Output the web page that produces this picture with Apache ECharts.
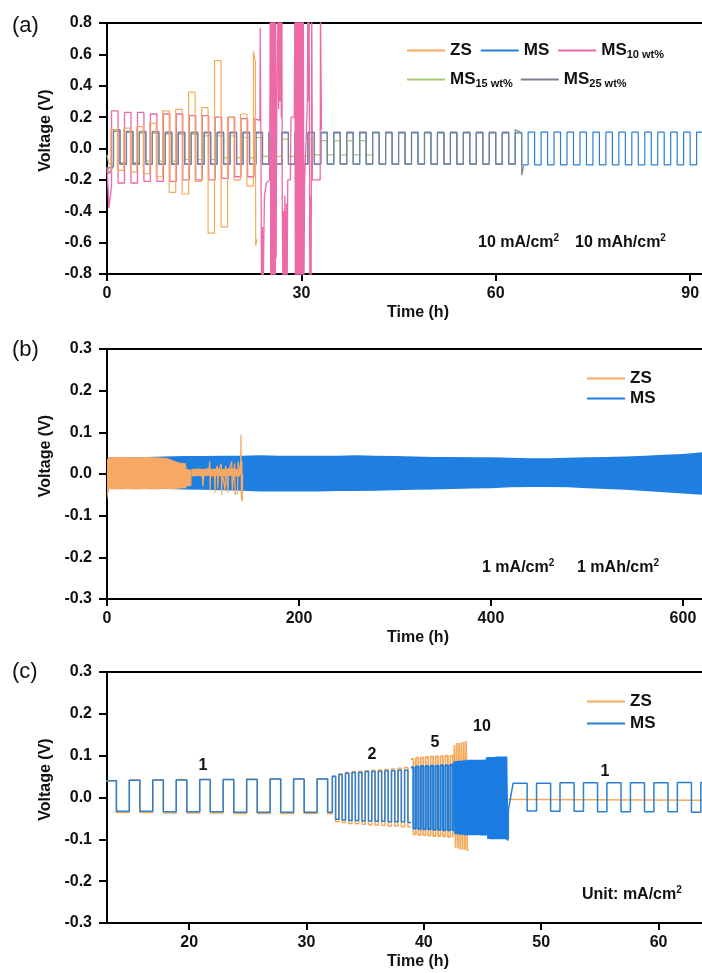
<!DOCTYPE html>
<html><head><meta charset="utf-8">
<script src="https://cdn.jsdelivr.net/npm/echarts@6/dist/echarts.min.js"></script>
<style>html,body{margin:0;padding:0;background:#fff}#c{width:702px;height:973px}</style>
</head><body><div id="c"></div>
<script>
// ---------------- Panel (a): 10 mA/cm2, 10 mAh/cm2 (cycle plateau voltages, V) ----------------
const aXTicks = [0, 30, 60, 90];
const aYTicks = [-0.8, -0.6, -0.4, -0.2, 0.0, 0.2, 0.4, 0.6, 0.8];
const aPeriod = 2, aHalf = 1;
// MS (blue)
const aMsHead = [[0, -0.13], [1.0, -0.11]];
const aMsStart = 1.0;
const aMsHi = [0.11,0.105,0.1,0.1,0.1,0.1,0.1,0.1,0.1,0.1,0.1,0.1,0.1,0.1,0.1,0.1,0.1,0.1,0.1,0.1,0.1,0.1,0.1,0.1,0.1,0.1,0.1,0.1,0.1,0.1,0.1,0.1,0.105,0.105,0.105,0.105,0.105,0.105,0.105,0.105,0.105,0.105,0.105,0.105,0.105,0.105];
const aMsLo = [-0.1,-0.1,-0.1,-0.1,-0.1,-0.1,-0.1,-0.1,-0.1,-0.1,-0.1,-0.1,-0.1,-0.1,-0.1,-0.1,-0.1,-0.1,-0.1,-0.1,-0.1,-0.1,-0.1,-0.1,-0.1,-0.1,-0.1,-0.1,-0.1,-0.1,-0.1,-0.105,-0.105,-0.105,-0.105,-0.105,-0.105,-0.105,-0.105,-0.105,-0.105,-0.105,-0.105,-0.105,-0.105,-0.105];
// ZS (orange)
const aZsHead = [[0, -0.15], [0.6, -0.14]];
const aZsStart = 0.6;
const aZsHi = [0.12,0.13,0.14,0.16,0.24,0.25,0.36,0.26,0.56,0.2,0.22];
const aZsLo = [-0.14,-0.15,-0.16,-0.18,-0.28,-0.29,-0.21,-0.54,-0.5,-0.2,-0.24];
const aZsTail = [[22.6,0.62],[22.9,0.55],[22.95,-0.62],[23.15,-0.58]];
// MS10 wt% (pink)
const aM10Head = [[0,-0.12],[0.3,-0.38],[0.7,-0.24]];
const aM10Start = 0.7;
const aM10Hi = [0.24,0.23,0.23,0.22,0.22,0.22,0.21,0.21,0.2,0.2,0.19];
const aM10Lo = [-0.22,-0.22,-0.21,-0.21,-0.21,-0.2,-0.2,-0.2,-0.19,-0.18,-0.18];
const aM10Tail = [[22.7,0.19],[23.6,0.18],[23.65,0.77],[23.75,0.1],[23.85,-0.9],[24.0,-0.5],[24.1,-0.9],[24.3,-0.3],[24.6,-0.22],[25.1,-0.2],
 [25.2,0.9],[25.27,-0.9],[25.34,0.9],[25.41,-0.9],[25.48,0.9],[25.55,-0.9],[25.62,0.9],[25.69,-0.9],[25.76,0.9],[25.83,-0.9],[25.9,0.9],[25.97,-0.9],[26.04,0.9],[26.1,-0.7],[26.2,0.2],
 [26.4,0.9],[26.5,0.25],[26.6,0.9],[26.7,0.3],[26.8,0.9],[26.9,0.2],[27.0,0.9],[27.05,-0.35],[27.15,-0.9],[27.25,-0.4],[27.35,-0.9],[27.45,-0.3],[27.55,-0.9],[27.7,-0.35],[27.8,-0.9],[27.9,-0.2],
 [28.3,-0.2],[28.4,0.2],[28.9,0.2],
 [29.0,0.9],[29.07,-0.9],[29.14,0.9],[29.21,-0.9],[29.28,0.9],[29.35,-0.9],[29.42,0.9],[29.49,-0.9],[29.56,0.9],[29.63,-0.9],[29.7,0.9],[29.77,-0.9],[29.84,0.9],[29.91,-0.9],[29.98,0.9],[30.05,-0.9],[30.12,0.9],[30.2,-0.9],[30.3,0.9],[30.4,-0.9],[30.5,-0.2],
 [30.9,0.25],[31.0,0.9],[31.1,0.3],[31.2,0.9],[31.3,-0.9],[31.4,-0.3],[31.5,-0.9],[31.6,0.9],[31.7,-0.2],[31.8,-0.2],
 [32.9,-0.2],[32.95,0.9],[33.1,0.12]];
// MS15 wt% (green)
const aM15Head = [[0,-0.04],[0.3,-0.1],[1.0,-0.09]];
const aM15Start = 1.0;
const aM15Hi = [0.12,0.11,0.1,0.1,0.09,0.09,0.09,0.08,0.08,0.08,0.07,0.07,0.06,0.06,0.06,0.06,0.05,0.05,0.05,0.05];
const aM15Lo = [-0.09,-0.09,-0.08,-0.08,-0.08,-0.07,-0.07,-0.07,-0.06,-0.06,-0.06,-0.05,-0.05,-0.05,-0.05,-0.04,-0.04,-0.04,-0.04,-0.04];
// MS25 wt% (gray)
const aM25Head = [[0,-0.12],[0.3,-0.16],[1.0,-0.11]];
const aM25Start = 1.0;
const aM25Hi = [0.12,0.11,0.11,0.11,0.105,0.105,0.105,0.105,0.105,0.105,0.105,0.105,0.105,0.105,0.105,0.105,0.105,0.105,0.105,0.105,0.105,0.105,0.105,0.105,0.105,0.105,0.105,0.105,0.105,0.105,0.105];
const aM25Lo = [-0.1,-0.1,-0.1,-0.1,-0.1,-0.1,-0.1,-0.1,-0.1,-0.1,-0.1,-0.1,-0.1,-0.1,-0.1,-0.1,-0.1,-0.1,-0.1,-0.1,-0.1,-0.1,-0.1,-0.1,-0.1,-0.1,-0.1,-0.1,-0.1,-0.1,-0.1];
const aM25Tail = [[63,0.12],[64,0.1],[64.02,-0.17],[64.3,-0.11]];

// ---------------- Panel (b): 1 mA/cm2, 1 mAh/cm2 (band envelopes, V) ----------------
const bXTicks = [0, 200, 400, 600];
const bYTicks = [-0.3, -0.2, -0.1, 0.0, 0.1, 0.2, 0.3];
const bMsT  = [0,2,20,40,60,80,100,120,140,160,180,200,220,240,260,280,300,320,340,360,380,400,420,440,460,480,500,520,540,560,580,600,620,640];
const bMsHi = [0.03,0.04,0.04,0.041,0.042,0.043,0.043,0.044,0.044,0.045,0.044,0.044,0.044,0.044,0.045,0.044,0.043,0.042,0.041,0.041,0.04,0.04,0.039,0.038,0.038,0.039,0.04,0.041,0.042,0.044,0.046,0.048,0.052,0.054];
const bMsLo = [-0.062,-0.035,-0.035,-0.036,-0.036,-0.037,-0.038,-0.039,-0.04,-0.042,-0.042,-0.042,-0.042,-0.041,-0.041,-0.04,-0.039,-0.038,-0.037,-0.036,-0.035,-0.034,-0.032,-0.031,-0.031,-0.032,-0.034,-0.036,-0.038,-0.041,-0.044,-0.047,-0.05,-0.052];
const bZsT  = [0,2,10,20,30,40,50,60,64,72,76,82,83,88];
const bZsHi = [0.035,0.04,0.041,0.041,0.04,0.041,0.04,0.039,0.037,0.03,0.027,0.026,0.012,0.01];
const bZsLo = [-0.062,-0.036,-0.037,-0.036,-0.037,-0.036,-0.037,-0.036,-0.036,-0.036,-0.035,-0.034,-0.03,-0.028];
const bZsNarrowT  = [88,95,100,105,110,115,120,125,130,135,139];
const bZsNarrowHi = [0.012,0.013,0.012,0.014,0.012,0.013,0.012,0.013,0.014,0.012,0.012];
const bZsNarrowLo = [-0.006,-0.005,-0.006,-0.004,-0.006,-0.005,-0.006,-0.005,-0.004,-0.006,-0.006];
const bZsSpikes = [[99,0.005],[100,-0.03],[101,0.005],[106,0.005],[107,0.03],[107.5,-0.04],[108,0.005],[112,0.005],[112.5,-0.045],[113,0.005],[115,0.02],[115.5,-0.035],[116,0.005],[119,0.025],[119.5,-0.05],[120,0.005],[123,-0.04],[123.5,0.02],[126,-0.045],[126.5,0.005],[130,0.03],[130.5,-0.04],[133,0.025],[133.5,-0.05],[136,-0.045],[136.5,0.03],[139,0.0],[139.6,0.094],[140,-0.062],[140.5,0.03],[141,-0.066],[141.3,0.0]];

// ---------------- Panel (c): rate test (cycle plateau voltages, V) ----------------
const cXTicks = [20, 30, 40, 50, 60];
const cYTicks = [-0.3, -0.2, -0.1, 0.0, 0.1, 0.2, 0.3];
// segment timing [start, period, positive half, end] in h
const cSeg1 = [12.9, 2, 0.9, 32.2];
const cSeg2 = [32.2, 0.56, 0.28, 38.9];
const cSeg3 = [38.9, 0.42, 0.21, 42.6];
const cSeg4 = [42.6, 0.2, 0.1, 47.2];
const cSeg4Zs = [42.6, 0.2, 0.1, 43.8];
const cSeg5 = [47.6, 2, 1.2, 66];
const cMsHi1 = [0.04,0.041,0.042,0.042,0.043,0.043,0.043,0.044,0.044,0.044];
const cMsLo1 = [-0.033,-0.033,-0.034,-0.034,-0.034,-0.035,-0.035,-0.035,-0.035,-0.035];
const cZsHi1 = [0.04,0.042,0.042,0.043,0.043,0.043,0.044,0.044,0.044,0.044];
const cZsLo1 = [-0.036,-0.036,-0.037,-0.037,-0.037,-0.038,-0.038,-0.038,-0.038,-0.039];
const cMsHi2 = [0.05,0.055,0.058,0.06,0.06,0.062,0.062,0.063,0.064,0.064,0.065,0.065];
const cMsLo2 = [-0.052,-0.054,-0.055,-0.055,-0.056,-0.056,-0.057,-0.057,-0.058,-0.058,-0.058,-0.06];
const cZsHi2 = [0.052,0.056,0.06,0.062,0.063,0.064,0.065,0.066,0.067,0.068,0.07,0.072];
const cZsLo2 = [-0.058,-0.06,-0.062,-0.063,-0.064,-0.065,-0.066,-0.067,-0.068,-0.068,-0.07,-0.07];
const cMsHi3 = [0.072,0.074,0.075,0.075,0.076,0.076,0.077,0.077,0.078];
const cMsLo3 = [-0.074,-0.075,-0.076,-0.076,-0.077,-0.077,-0.078,-0.078,-0.078];
const cZsHi3 = [0.092,0.095,0.096,0.097,0.098,0.098,0.099,0.1,0.1];
const cZsLo3 = [-0.088,-0.09,-0.09,-0.091,-0.092,-0.092,-0.093,-0.094,-0.095];
const cMsHi4 = [0.086,0.087,0.088,0.088,0.089,0.089,0.09,0.09,0.09,0.09,0.09,0.09,0.09,0.091,0.096,0.097,0.097,0.097,0.098,0.098,0.098,0.098,0.098];
const cMsLo4 = [-0.088,-0.088,-0.089,-0.089,-0.09,-0.09,-0.09,-0.09,-0.09,-0.09,-0.09,-0.091,-0.091,-0.091,-0.099,-0.1,-0.1,-0.1,-0.1,-0.1,-0.1,-0.1,-0.1];
const cZsHi4 = [0.125,0.13,0.13,0.132,0.133,0.135];
const cZsLo4 = [-0.12,-0.122,-0.124,-0.125,-0.125,-0.126];
const cZsFlat = [[43.8,-0.004],[66,-0.007]];
const cMsHead5 = [[47.2,-0.1],[47.2,-0.03]];
const cMsHi5 = [0.034,0.034,0.035,0.035,0.035,0.035,0.035,0.036,0.036,0.036];
const cMsLo5 = [-0.032,-0.033,-0.033,-0.034,-0.034,-0.034,-0.034,-0.035,-0.035,-0.035];

// ---------------- helpers ----------------
function wave(start, period, pos, hi, lo, end) {
  const pts = [];
  const E = end === undefined ? Infinity : end;
  for (let k = 0; k < hi.length; k++) {
    const ts = start + k * period;
    if (ts >= E) break;
    pts.push([ts, hi[k]]);
    if (ts + pos >= E) { pts.push([E, hi[k]]); break; }
    pts.push([ts + pos, hi[k]]);
    pts.push([ts + pos, lo[k]]);
    pts.push([Math.min(ts + period, E), lo[k]]);
  }
  return pts;
}
const seg = (s, hi, lo) => wave(s[0], s[1], s[2], hi, lo, s[3]);

const FONT = '"Liberation Sans", Arial, Helvetica, sans-serif';
const COL = { zs: '#f5ab5e', ms: '#2a80d2', m10: '#ec6aa8', m15: '#a8c877', m25: '#7b8091',
              bms: '#1f7fe0', bzs: '#f6a864' };

function line(name, idx, data, color, width, z) {
  return { type: 'line', name, xAxisIndex: idx, yAxisIndex: idx, data, showSymbol: false, symbol: 'none',
    lineStyle: { color, width }, itemStyle: { color }, z: z || 2, animation: false, clip: true, silent: true };
}
function band(name, idx, ts, hi, lo, color, z) {
  return { type: 'custom', name, xAxisIndex: idx, yAxisIndex: idx, data: [[ts[0], hi[0]]], itemStyle: { color },
    animation: false, silent: true, clip: true, z: z || 2,
    renderItem: (params, api) => {
      const pts = [];
      for (let i = 0; i < ts.length; i++) pts.push(api.coord([ts[i], hi[i]]));
      for (let i = ts.length - 1; i >= 0; i--) pts.push(api.coord([ts[i], lo[i]]));
      return { type: 'polygon', shape: { points: pts }, style: { fill: color } };
    } };
}

const lbl = { fontFamily: FONT, fontWeight: 'bold', fontSize: 16, color: '#111' };
function xAxis(idx, min, max, ticks) {
  return { type: 'value', gridIndex: idx, min, max, name: 'Time (h)', nameLocation: 'middle', nameGap: 31,
    nameTextStyle: lbl,
    axisLine: { show: true, onZero: false, lineStyle: { color: '#000', width: 2 } },
    axisTick: { show: true, inside: false, length: 7, lineStyle: { color: '#000', width: 2 }, customValues: ticks },
    axisLabel: Object.assign({ margin: 12, customValues: ticks, formatter: v => String(v) }, lbl),
    splitLine: { show: false } };
}
function yAxis(idx, min, max, ticks) {
  return { type: 'value', gridIndex: idx, min, max, name: 'Voltage (V)', nameLocation: 'middle', nameGap: 53,
    nameTextStyle: Object.assign({ padding: [0, 0, 0, 36] }, lbl),
    axisLine: { show: true, onZero: false, lineStyle: { color: '#000', width: 2 } },
    axisTick: { show: true, inside: false, length: 8, lineStyle: { color: '#000', width: 2 }, customValues: ticks },
    axisLabel: Object.assign({ margin: 15, customValues: ticks, formatter: v => v.toFixed(1) }, lbl),
    splitLine: { show: false } };
}

const richLeg = {
  b: { fontFamily: FONT, fontWeight: 'bold', fontSize: 17, color: '#111' },
  s: { fontFamily: FONT, fontWeight: 'bold', fontSize: 11, color: '#111', padding: [9, 0, 0, 0] }
};
const legFmt = n => ({ ZS: '{b|ZS}', MS: '{b|MS}', MS10: '{b|MS}{s|10 wt%}', MS15: '{b|MS}{s|15 wt%}', MS25: '{b|MS}{s|25 wt%}' })[n];
function legend(items, left, top, orient, gap) {
  return { data: items, left, top, orient: orient || 'horizontal', itemGap: gap, itemWidth: 38, itemHeight: 2,
    padding: 0, icon: 'rect', selectedMode: false, formatter: legFmt, textStyle: { rich: richLeg } };
}

const richAnn = {
  n: { fontFamily: FONT, fontWeight: 'bold', fontSize: 16, color: '#111' },
  p: { fontFamily: FONT, fontWeight: 'bold', fontSize: 10, color: '#111', padding: [0, 0, 9, 0] }
};
function ann(x, y, text, align) {
  return { type: 'text', x, y, silent: true,
    style: { text, rich: richAnn, align: align || 'left', verticalAlign: 'middle', font: 'bold 16px ' + FONT, fill: '#111' } };
}
function plab(y, t) {
  return { type: 'text', x: 12, y, silent: true, style: { text: t, font: '22px ' + FONT, fill: '#111', verticalAlign: 'middle' } };
}

const gridBase = { left: 107, width: 622, show: true, borderColor: '#000', borderWidth: 2, backgroundColor: 'transparent',
                   containLabel: false, outerBoundsMode: 'none' };
const option = {
  animation: false,
  backgroundColor: '#fff',
  grid: [
    Object.assign({ top: 23, height: 251 }, gridBase),
    Object.assign({ top: 349, height: 250 }, gridBase),
    Object.assign({ top: 672, height: 251 }, gridBase)
  ],
  xAxis: [xAxis(0, 0, 96, aXTicks), xAxis(1, 0, 648, bXTicks), xAxis(2, 13, 66, cXTicks)],
  yAxis: [yAxis(0, -0.8, 0.8, aYTicks), yAxis(1, -0.3, 0.3, bYTicks), yAxis(2, -0.3, 0.3, cYTicks)],
  legend: [
    legend([{ name: 'ZS', itemStyle: { color: COL.zs } }, { name: 'MS', itemStyle: { color: COL.ms } }, { name: 'MS10', itemStyle: { color: COL.m10 } }], 407, 42, 'horizontal', 9),
    legend([{ name: 'MS15', itemStyle: { color: COL.m15 } }, { name: 'MS25', itemStyle: { color: COL.m25 } }], 407, 71, 'horizontal', 8),
    legend([{ name: 'ZS', itemStyle: { color: COL.bzs } }, { name: 'MS', itemStyle: { color: COL.bms } }], 587, 370, 'vertical', 3),
    legend([{ name: 'ZS', itemStyle: { color: COL.zs } }, { name: 'MS', itemStyle: { color: COL.ms } }], 587, 693, 'vertical', 5)
  ],
  series: [
    // (a)
    line('MS', 0, aMsHead.concat(wave(aMsStart, aPeriod, aHalf, aMsHi, aMsLo)), COL.ms, 1.2, 2),
    line('MS15', 0, aM15Head.concat(wave(aM15Start, aPeriod, aHalf, aM15Hi, aM15Lo)), COL.m15, 1.2, 3),
    line('MS25', 0, aM25Head.concat(wave(aM25Start, aPeriod, aHalf, aM25Hi, aM25Lo), aM25Tail), COL.m25, 1.2, 4),
    line('MS10', 0, aM10Head.concat(wave(aM10Start, aPeriod, aHalf, aM10Hi, aM10Lo), aM10Tail), COL.m10, 1.3, 5),
    line('ZS', 0, aZsHead.concat(wave(aZsStart, aPeriod, aHalf, aZsHi, aZsLo), aZsTail), COL.zs, 1.2, 6),
    // (b)
    band('MS', 1, bMsT, bMsHi, bMsLo, COL.bms, 2),
    band('ZS', 1, bZsT, bZsHi, bZsLo, COL.bzs, 3),
    band('ZS', 1, bZsNarrowT, bZsNarrowHi, bZsNarrowLo, COL.bzs, 3),
    line('ZS', 1, bZsSpikes, COL.bzs, 1.2, 4),
    // (c)
    line('ZS', 2, seg(cSeg1, cZsHi1, cZsLo1).concat(seg(cSeg2, cZsHi2, cZsLo2)), COL.zs, 1.5, 2),
    line('ZS', 2, seg(cSeg3, cZsHi3, cZsLo3).concat(seg(cSeg4Zs, cZsHi4, cZsLo4)), COL.zs, 1.8, 2),
    line('ZS', 2, cZsFlat, COL.zs, 1.5, 2),
    line('MS', 2, seg(cSeg1, cMsHi1, cMsLo1).concat(seg(cSeg2, cMsHi2, cMsLo2)), COL.ms, 1.5, 3),
    line('MS', 2, seg(cSeg3, cMsHi3, cMsLo3), '#1f7ddc', 2.1, 3),
    line('MS', 2, seg(cSeg4, cMsHi4, cMsLo4), '#1a7be0', 2.6, 3),
    line('MS', 2, cMsHead5.concat(seg(cSeg5, cMsHi5, cMsLo5)), COL.ms, 1.5, 3)
  ],
  graphic: [
    plab(26, '(a)'), plab(350, '(b)'), plab(672, '(c)'),
    ann(478, 243, '{n|10 mA/cm}{p|2}'), ann(575, 243, '{n|10 mAh/cm}{p|2}'),
    ann(482, 568, '{n|1 mA/cm}{p|2}'), ann(577, 568, '{n|1 mAh/cm}{p|2}'),
    ann(582, 895, '{n|Unit: mA/cm}{p|2}'),
    ann(203, 766, '{n|1}', 'center'), ann(372, 755, '{n|2}', 'center'), ann(435, 743, '{n|5}', 'center'),
    ann(482, 727, '{n|10}', 'center'), ann(605, 772, '{n|1}', 'center')
  ]
};
const chart = echarts.init(document.getElementById('c'), null, { renderer: 'canvas', width: 702, height: 973 });
chart.setOption(option);
</script>
</body></html>
